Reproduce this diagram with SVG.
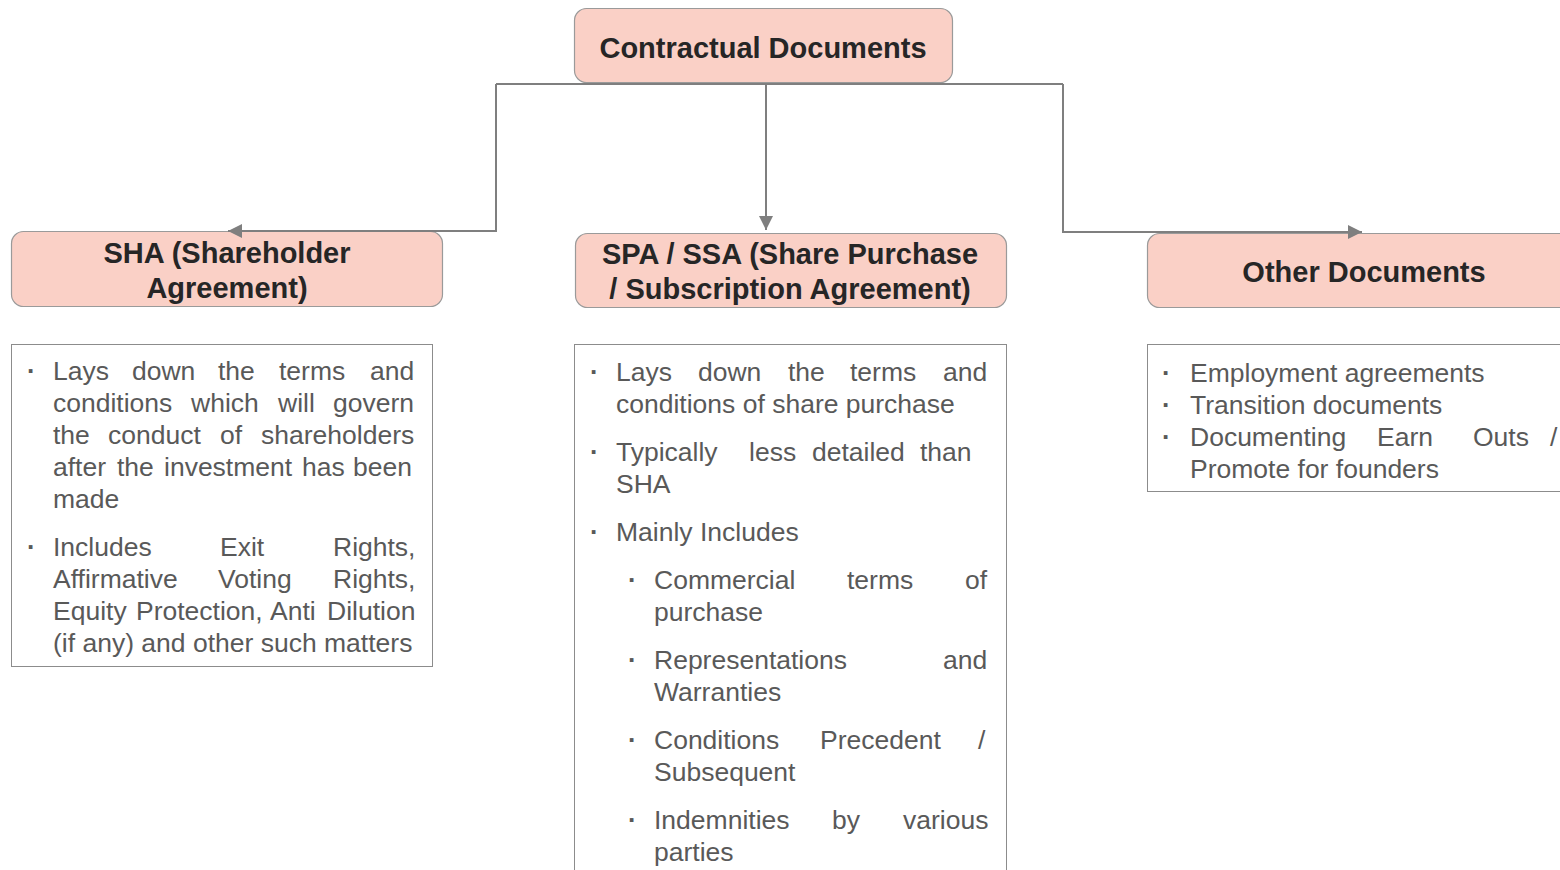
<svg xmlns="http://www.w3.org/2000/svg" width="1560" height="870" viewBox="0 0 1560 870">
<defs>
<marker id="arr" viewBox="0 0 10 10" refX="10" refY="5" markerWidth="7.5" markerHeight="7" markerUnits="strokeWidth" orient="auto">
<path d="M0,0 L10,5 L0,10 z" fill="#7f7f7f"/>
</marker>
<style>
.hdr{fill:#fad0c6;stroke:#9a9a9a;stroke-width:1.2}
.ht{font-family:"Liberation Sans",Arial,sans-serif;font-weight:bold;font-size:29px;fill:#262626;text-anchor:middle}
.lst{fill:#ffffff;stroke:#8c8c8c;stroke-width:1}
.bt{font-family:"Liberation Sans",Arial,sans-serif;font-size:26.5px;fill:#595959}
.bl{font-family:"Liberation Sans",Arial,sans-serif;font-size:26px;font-weight:bold;fill:#595959}
.con{fill:none;stroke:#7f7f7f;stroke-width:2}
</style>
</defs>
<rect width="1560" height="870" fill="#ffffff"/>
<g id="contractual">
<rect class="hdr" x="574.5" y="8.5" width="378" height="74" rx="12"/>
<text class="ht" x="763" y="58">Contractual Documents</text>
</g>
<g id="sha">
<rect class="hdr" x="11.5" y="231.5" width="431" height="75" rx="12"/>
<text class="ht" x="227" y="263">SHA (Shareholder</text>
<text class="ht" x="227" y="298">Agreement)</text>
</g>
<g id="spa">
<rect class="hdr" x="575.5" y="233.5" width="431" height="74" rx="12"/>
<text class="ht" x="790" y="264">SPA / SSA (Share Purchase</text>
<text class="ht" x="790" y="299">/ Subscription Agreement)</text>
</g>
<g id="other">
<rect class="hdr" x="1147.5" y="233.5" width="440" height="74" rx="12"/>
<text class="ht" x="1364" y="282">Other Documents</text>
</g>
<g id="sha-list">
<rect class="lst" x="11.5" y="344.5" width="421" height="322"/>
<text class="bl" x="27" y="380">·</text>
<text class="bt" y="380"><tspan x="53">Lays</tspan><tspan x="132">down</tspan><tspan x="218">the</tspan><tspan x="279">terms</tspan><tspan x="370">and</tspan></text>
<text class="bt" y="412"><tspan x="53">conditions</tspan><tspan x="191">which</tspan><tspan x="278">will</tspan><tspan x="333">govern</tspan></text>
<text class="bt" y="444"><tspan x="53">the</tspan><tspan x="108">conduct</tspan><tspan x="220">of</tspan><tspan x="261">shareholders</tspan></text>
<text class="bt" y="476"><tspan x="53">after</tspan><tspan x="117">the</tspan><tspan x="164">investment</tspan><tspan x="302">has</tspan><tspan x="353">been</tspan></text>
<text class="bt" x="53" y="508">made</text>
<text class="bl" x="27" y="556">·</text>
<text class="bt" y="556"><tspan x="53">Includes</tspan><tspan x="220">Exit</tspan><tspan x="333">Rights,</tspan></text>
<text class="bt" y="588"><tspan x="53">Affirmative</tspan><tspan x="218">Voting</tspan><tspan x="333">Rights,</tspan></text>
<text class="bt" y="620"><tspan x="53">Equity</tspan><tspan x="136">Protection,</tspan><tspan x="270">Anti</tspan><tspan x="327">Dilution</tspan></text>
<text class="bt" x="53" y="652">(if any) and other such matters</text>
</g>
<g id="spa-list">
<rect class="lst" x="574.5" y="344.5" width="432" height="540"/>
<text class="bl" x="590" y="381">·</text>
<text class="bt" y="381"><tspan x="616">Lays</tspan><tspan x="698">down</tspan><tspan x="788">the</tspan><tspan x="850">terms</tspan><tspan x="943">and</tspan></text>
<text class="bt" x="616" y="413">conditions of share purchase</text>
<text class="bl" x="590" y="461">·</text>
<text class="bt" y="461"><tspan x="616">Typically</tspan><tspan x="749">less</tspan><tspan x="812">detailed</tspan><tspan x="920">than</tspan></text>
<text class="bt" x="616" y="493">SHA</text>
<text class="bl" x="590" y="541">·</text>
<text class="bt" x="616" y="541">Mainly Includes</text>
<text class="bl" x="628" y="589">·</text>
<text class="bt" y="589"><tspan x="654">Commercial</tspan><tspan x="847">terms</tspan><tspan x="965">of</tspan></text>
<text class="bt" x="654" y="621">purchase</text>
<text class="bl" x="628" y="669">·</text>
<text class="bt" y="669"><tspan x="654">Representations</tspan><tspan x="943">and</tspan></text>
<text class="bt" x="654" y="701">Warranties</text>
<text class="bl" x="628" y="749">·</text>
<text class="bt" y="749"><tspan x="654">Conditions</tspan><tspan x="820">Precedent</tspan><tspan x="978">/</tspan></text>
<text class="bt" x="654" y="781">Subsequent</text>
<text class="bl" x="628" y="829">·</text>
<text class="bt" y="829"><tspan x="654">Indemnities</tspan><tspan x="832">by</tspan><tspan x="903">various</tspan></text>
<text class="bt" x="654" y="861">parties</text>
</g>
<g id="other-list">
<rect class="lst" x="1147.5" y="344.5" width="440" height="147"/>
<text class="bl" x="1162" y="382">·</text>
<text class="bt" x="1190" y="382">Employment agreements</text>
<text class="bl" x="1162" y="414">·</text>
<text class="bt" x="1190" y="414">Transition documents</text>
<text class="bl" x="1162" y="446">·</text>
<text class="bt" y="446"><tspan x="1190">Documenting</tspan><tspan x="1377">Earn</tspan><tspan x="1473">Outs</tspan><tspan x="1550">/</tspan></text>
<text class="bt" x="1190" y="478">Promote for founders</text>
</g>
<g id="connectors">
<path class="con" d="M496,84 H1063"/>
<path class="con" d="M496,84 V231 H228" marker-end="url(#arr)"/>
<path class="con" d="M766,84 V230" marker-end="url(#arr)"/>
<path class="con" d="M1063,84 V232 H1362" marker-end="url(#arr)"/>
</g>
</svg>
